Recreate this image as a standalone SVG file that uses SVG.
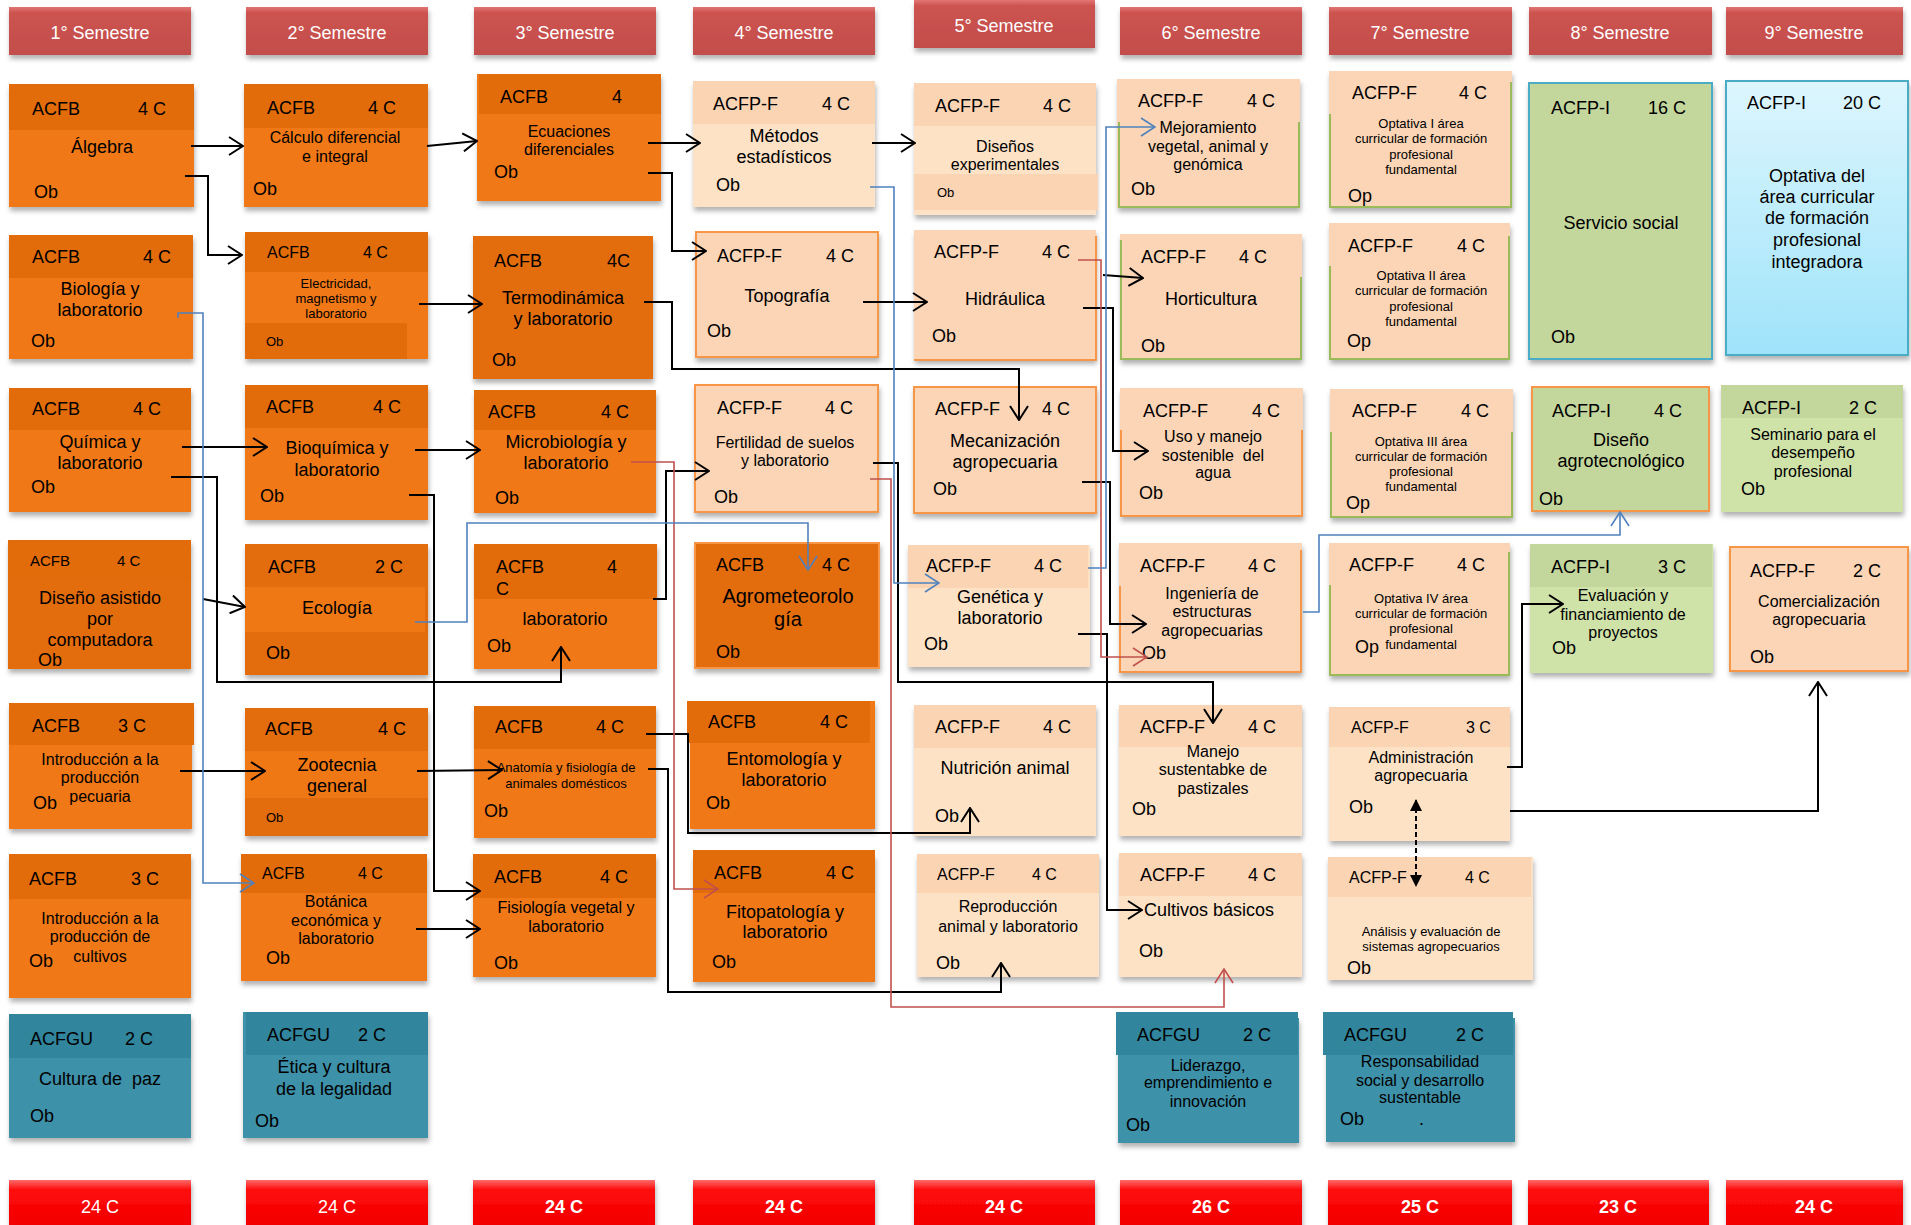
<svg xmlns="http://www.w3.org/2000/svg" width="1911" height="1225" viewBox="0 0 1911 1225">
<defs>
<style>
text{font-family:"Liberation Sans",Arial,sans-serif;fill:#000}
.s20{font-size:20px}.s18{font-size:18px}.s16{font-size:16px}.s15{font-size:15px}.s13{font-size:13px}
.m{text-anchor:middle}
.w{fill:#fff}
.b{font-weight:bold}
.sd{filter:url(#sh)}
.ob{fill:#F07814}.oh{fill:#E36C0A}
.pb{fill:#FBD5B5}.pl{fill:#FDE2C6}.ph{fill:#FBD4B4}
.gb{fill:#C3D69B}.gl{fill:#CFE2A8}
.tb{fill:#3D91A9}.th{fill:#31859C}
.bo{stroke:#F79646;stroke-width:2}
.bg{stroke:#9BBB59;stroke-width:2}
.bb{stroke:#4BACC6;stroke-width:2}
.sem{fill:url(#gsem)}.tot{fill:url(#gtot)}
.k{fill:none;stroke:#000;stroke-width:2;marker-end:url(#ak)}
.r{fill:none;stroke:#C0504D;stroke-width:1.6;marker-end:url(#ar)}
.u{fill:none;stroke:#4F81BD;stroke-width:1.6;marker-end:url(#au)}
.d{fill:none;stroke:#000;stroke-width:2;stroke-dasharray:5 3;marker-end:url(#af);marker-start:url(#afs)}
</style>
<filter id="sh" x="-5%" y="-5%" width="115%" height="120%">
<feDropShadow dx="1" dy="4" stdDeviation="2.5" flood-color="#000" flood-opacity="0.3"/>
</filter>
<linearGradient id="gsem" x1="0" y1="0" x2="0" y2="1">
<stop offset="0" stop-color="#E27673"/><stop offset="0.12" stop-color="#CD5350"/><stop offset="1" stop-color="#C24E4B"/>
</linearGradient>
<linearGradient id="gtot" x1="0" y1="0" x2="0" y2="1">
<stop offset="0" stop-color="#FF6A6A"/><stop offset="0.2" stop-color="#FF0A0A"/><stop offset="1" stop-color="#F00000"/>
</linearGradient>
<linearGradient id="gblue" x1="0" y1="0" x2="0" y2="1">
<stop offset="0" stop-color="#DDF6FE"/><stop offset="1" stop-color="#9FE3FA"/>
</linearGradient>
<marker id="ak" viewBox="0 0 16 20" refX="15" refY="10" markerWidth="16" markerHeight="20" markerUnits="userSpaceOnUse" orient="auto">
<path d="M1,1 L15,10 L1,19" fill="none" stroke="#000" stroke-width="2"/>
</marker>
<marker id="ar" viewBox="0 0 16 20" refX="15" refY="10" markerWidth="16" markerHeight="20" markerUnits="userSpaceOnUse" orient="auto">
<path d="M1,1 L15,10 L1,19" fill="none" stroke="#C0504D" stroke-width="1.6"/>
</marker>
<marker id="au" viewBox="0 0 16 20" refX="15" refY="10" markerWidth="16" markerHeight="20" markerUnits="userSpaceOnUse" orient="auto">
<path d="M1,1 L15,10 L1,19" fill="none" stroke="#4F81BD" stroke-width="1.6"/>
</marker>
<marker id="af" viewBox="0 0 12 12" refX="11" refY="6" markerWidth="12" markerHeight="12" markerUnits="userSpaceOnUse" orient="auto">
<path d="M0,0 L12,6 L0,12 Z" fill="#000"/>
</marker>
<marker id="afs" viewBox="0 0 12 12" refX="1" refY="6" markerWidth="12" markerHeight="12" markerUnits="userSpaceOnUse" orient="auto">
<path d="M12,0 L0,6 L12,12 Z" fill="#000"/>
</marker>
</defs>
<rect width="1911" height="1225" fill="#fff"/>

<g id="semestres">
<g id="sem1"><rect class="sem sd" x="9" y="7" width="182" height="48"/><text class="s18 m w" x="100" y="39">1° Semestre</text></g>
<g id="sem2"><rect class="sem sd" x="246" y="7" width="182" height="48"/><text class="s18 m w" x="337" y="39">2° Semestre</text></g>
<g id="sem3"><rect class="sem sd" x="474" y="7" width="182" height="48"/><text class="s18 m w" x="565" y="39">3° Semestre</text></g>
<g id="sem4"><rect class="sem sd" x="693" y="7" width="182" height="48"/><text class="s18 m w" x="784" y="39">4° Semestre</text></g>
<g id="sem5"><rect class="sem sd" x="914" y="0" width="181" height="48"/><text class="s18 m w" x="1004" y="32">5° Semestre</text></g>
<g id="sem6"><rect class="sem sd" x="1120" y="7" width="182" height="48"/><text class="s18 m w" x="1211" y="39">6° Semestre</text></g>
<g id="sem7"><rect class="sem sd" x="1329" y="7" width="183" height="48"/><text class="s18 m w" x="1420" y="39">7° Semestre</text></g>
<g id="sem8"><rect class="sem sd" x="1529" y="7" width="183" height="48"/><text class="s18 m w" x="1620" y="39">8° Semestre</text></g>
<g id="sem9"><rect class="sem sd" x="1726" y="7" width="177" height="48"/><text class="s18 m w" x="1814" y="39">9° Semestre</text></g>
</g>

<g id="totales">
<g id="tot1"><rect class="tot sd" x="9" y="1180" width="182" height="50"/><text class="s18 m w" x="100" y="1213">24 C</text></g>
<g id="tot2"><rect class="tot sd" x="246" y="1180" width="182" height="50"/><text class="s18 m w" x="337" y="1213">24 C</text></g>
<g id="tot3"><rect class="tot sd" x="473" y="1180" width="182" height="50"/><text class="s18 m w b" x="564" y="1213">24 C</text></g>
<g id="tot4"><rect class="tot sd" x="693" y="1180" width="182" height="50"/><text class="s18 m w b" x="784" y="1213">24 C</text></g>
<g id="tot5"><rect class="tot sd" x="914" y="1180" width="181" height="50"/><text class="s18 m w b" x="1004" y="1213">24 C</text></g>
<g id="tot6"><rect class="tot sd" x="1120" y="1180" width="182" height="50"/><text class="s18 m w b" x="1211" y="1213">26 C</text></g>
<g id="tot7"><rect class="tot sd" x="1328" y="1180" width="184" height="50"/><text class="s18 m w b" x="1420" y="1213">25 C</text></g>
<g id="tot8"><rect class="tot sd" x="1528" y="1180" width="181" height="50"/><text class="s18 m w b" x="1618" y="1213">23 C</text></g>
<g id="tot9"><rect class="tot sd" x="1726" y="1180" width="177" height="50"/><text class="s18 m w b" x="1814" y="1213">24 C</text></g>
</g>

<!-- Column 1 -->
<g id="algebra"><rect class="ob sd" x="9" y="84" width="185" height="123"/><rect class="oh" x="9" y="84" width="185" height="46"/>
<text class="s18" x="32" y="115">ACFB</text><text class="s18" x="138" y="115">4 C</text>
<text class="s18 m" x="102" y="153">Álgebra</text><text class="s18" x="34" y="198">Ob</text></g>

<g id="biologia"><rect class="ob sd" x="9" y="235" width="184" height="124"/><rect class="oh" x="9" y="235" width="184" height="43"/>
<text class="s18" x="32" y="263">ACFB</text><text class="s18" x="143" y="263">4 C</text>
<text class="s18 m" x="100" y="295">Biología y</text><text class="s18 m" x="100" y="316">laboratorio</text><text class="s18" x="31" y="347">Ob</text></g>

<g id="quimica"><rect class="ob sd" x="9" y="388" width="182" height="124"/><rect class="oh" x="9" y="388" width="182" height="42"/>
<text class="s18" x="32" y="415">ACFB</text><text class="s18" x="133" y="415">4 C</text>
<text class="s18 m" x="100" y="448">Química y</text><text class="s18 m" x="100" y="469">laboratorio</text><text class="s18" x="31" y="493">Ob</text></g>

<g id="disenoasistido"><rect class="oh sd" x="8" y="540" width="183" height="129"/><rect class="oh" x="8" y="540" width="183" height="40"/>
<text class="s15" x="30" y="566">ACFB</text><text class="s15" x="117" y="566">4 C</text>
<text class="s18 m" x="100" y="604">Diseño asistido</text><text class="s18 m" x="100" y="625">por</text><text class="s18 m" x="100" y="646">computadora</text><text class="s18" x="38" y="666">Ob</text></g>

<g id="intropecuaria"><rect class="ob sd" x="9" y="703" width="183" height="126"/><rect class="oh" x="9" y="703" width="185" height="42"/>
<text class="s18" x="32" y="732">ACFB</text><text class="s18" x="118" y="732">3 C</text>
<text class="s16 m" x="100" y="765">Introducción a la</text><text class="s16 m" x="100" y="783">producción</text><text class="s16 m" x="100" y="802">pecuaria</text><text class="s18" x="33" y="809">Ob</text></g>

<g id="introcultivos"><rect class="ob sd" x="9" y="854" width="182" height="144"/><rect class="oh" x="9" y="854" width="182" height="45"/>
<text class="s18" x="29" y="885">ACFB</text><text class="s18" x="131" y="885">3 C</text>
<text class="s16 m" x="100" y="924">Introducción a la</text><text class="s16 m" x="100" y="942">producción de</text><text class="s16 m" x="100" y="962">cultivos</text><text class="s18" x="29" y="967">Ob</text></g>

<g id="culturapaz"><rect class="tb sd" x="9" y="1014" width="182" height="124"/><rect class="th" x="9" y="1014" width="182" height="44"/>
<text class="s18" x="30" y="1045">ACFGU</text><text class="s18" x="125" y="1045">2 C</text>
<text class="s18 m" x="100" y="1085" xml:space="preserve">Cultura de  paz</text><text class="s18" x="30" y="1122">Ob</text></g>

<!-- Column 2 -->
<g id="calculo"><rect class="ob sd" x="244" y="84" width="184" height="123"/><rect class="oh" x="244" y="84" width="184" height="44"/>
<text class="s18" x="267" y="114">ACFB</text><text class="s18" x="368" y="114">4 C</text>
<text class="s16 m" x="335" y="143">Cálculo diferencial</text><text class="s16 m" x="335" y="162">e integral</text><text class="s18" x="253" y="195">Ob</text></g>

<g id="electricidad"><rect class="ob sd" x="245" y="232" width="183" height="127"/><rect class="oh" x="245" y="232" width="183" height="40"/><rect class="oh" x="245" y="323" width="162" height="36"/>
<text class="s16" x="267" y="258">ACFB</text><text class="s16" x="363" y="258">4 C</text>
<text class="s13 m" x="336" y="288">Electricidad,</text><text class="s13 m" x="336" y="303">magnetismo y</text><text class="s13 m" x="336" y="318">laboratorio</text><text class="s13" x="266" y="346">Ob</text></g>

<g id="bioquimica"><rect class="ob sd" x="245" y="385" width="183" height="135"/><rect class="oh" x="245" y="385" width="183" height="43"/>
<text class="s18" x="266" y="413">ACFB</text><text class="s18" x="373" y="413">4 C</text>
<text class="s18 m" x="337" y="454">Bioquímica y</text><text class="s18 m" x="337" y="476">laboratorio</text><text class="s18" x="260" y="502">Ob</text></g>

<g id="ecologia"><rect class="oh sd" x="245" y="544" width="183" height="131"/><rect class="ob" x="245" y="587" width="180" height="45"/>
<text class="s18" x="268" y="573">ACFB</text><text class="s18" x="375" y="573">2 C</text>
<text class="s18 m" x="337" y="614">Ecología</text><text class="s18" x="266" y="659">Ob</text></g>

<g id="zootecnia"><rect class="oh sd" x="245" y="708" width="183" height="128"/><rect class="ob" x="245" y="751" width="183" height="47"/>
<text class="s18" x="265" y="735">ACFB</text><text class="s18" x="378" y="735">4 C</text>
<text class="s18 m" x="337" y="771">Zootecnia</text><text class="s18 m" x="337" y="792">general</text><text class="s13" x="266" y="822">Ob</text></g>

<g id="botanica"><rect class="ob sd" x="241" y="854" width="186" height="127"/><rect class="oh" x="241" y="854" width="186" height="39"/>
<text class="s16" x="262" y="879">ACFB</text><text class="s16" x="358" y="879">4 C</text>
<text class="s16 m" x="336" y="907">Botánica</text><text class="s16 m" x="336" y="926">económica y</text><text class="s16 m" x="336" y="944">laboratorio</text><text class="s18" x="266" y="964">Ob</text></g>

<g id="etica"><rect class="tb sd" x="243" y="1012" width="185" height="126"/><rect class="th" x="246" y="1012" width="182" height="43"/>
<text class="s18" x="267" y="1041">ACFGU</text><text class="s18" x="358" y="1041">2 C</text>
<text class="s18 m" x="334" y="1073">Ética y cultura</text><text class="s18 m" x="334" y="1095">de la legalidad</text><text class="s18" x="255" y="1127">Ob</text></g>

<!-- Column 3 -->
<g id="ecuaciones"><rect class="ob sd" x="477" y="74" width="184" height="127"/><rect class="oh" x="479" y="74" width="182" height="40"/>
<text class="s18" x="500" y="103">ACFB</text><text class="s18" x="612" y="103">4</text>
<text class="s16 m" x="569" y="137">Ecuaciones</text><text class="s16 m" x="569" y="155">diferenciales</text><text class="s18" x="494" y="178">Ob</text></g>

<g id="termodinamica"><rect class="oh sd" x="473" y="236" width="180" height="143"/>
<text class="s18" x="494" y="267">ACFB</text><text class="s18" x="607" y="267">4C</text>
<text class="s18 m" x="563" y="304">Termodinámica</text><text class="s18 m" x="563" y="325">y laboratorio</text><text class="s18" x="492" y="366">Ob</text></g>

<g id="microbiologia"><rect class="ob sd" x="474" y="390" width="182" height="123"/><rect class="oh" x="474" y="390" width="182" height="40"/>
<text class="s18" x="488" y="418">ACFB</text><text class="s18" x="601" y="418">4 C</text>
<text class="s18 m" x="566" y="448">Microbiología y</text><text class="s18 m" x="566" y="469">laboratorio</text><text class="s18" x="495" y="504">Ob</text></g>

<g id="laboratorio3"><rect class="ob sd" x="474" y="544" width="183" height="125"/><rect class="oh" x="474" y="544" width="183" height="55"/>
<text class="s18" x="496" y="573">ACFB</text><text class="s18" x="607" y="573">4</text><text class="s18" x="496" y="595">C</text>
<text class="s18 m" x="565" y="625">laboratorio</text><text class="s18" x="487" y="652">Ob</text></g>

<g id="anatomia"><rect class="ob sd" x="474" y="706" width="182" height="132"/><rect class="oh" x="474" y="706" width="182" height="43"/>
<text class="s18" x="495" y="733">ACFB</text><text class="s18" x="596" y="733">4 C</text>
<text class="s13 m" x="566" y="772">Anatomía y fisiología de</text><text class="s13 m" x="566" y="788">animales domésticos</text><text class="s18" x="484" y="817">Ob</text></g>

<g id="fisiologia"><rect class="ob sd" x="473" y="854" width="183" height="123"/><rect class="oh" x="473" y="854" width="183" height="44"/>
<text class="s18" x="494" y="883">ACFB</text><text class="s18" x="600" y="883">4 C</text>
<text class="s16 m" x="566" y="913">Fisiología vegetal y</text><text class="s16 m" x="566" y="932">laboratorio</text><text class="s18" x="494" y="969">Ob</text></g>

<!-- Column 4 -->
<g id="metodos"><rect class="pl sd" x="693" y="81" width="182" height="126"/><rect class="ph" x="693" y="81" width="182" height="43"/>
<text class="s18" x="713" y="110">ACFP-F</text><text class="s18" x="822" y="110">4 C</text>
<text class="s18 m" x="784" y="142">Métodos</text><text class="s18 m" x="784" y="163">estadísticos</text><text class="s18" x="716" y="191">Ob</text></g>

<g id="topografia"><rect class="pb bo sd" x="696" y="232" width="182" height="125"/>
<text class="s18" x="717" y="262">ACFP-F</text><text class="s18" x="826" y="262">4 C</text>
<text class="s18 m" x="787" y="302">Topografía</text><text class="s18" x="707" y="337">Ob</text></g>

<g id="fertilidad"><rect class="pb bo sd" x="695" y="385" width="183" height="127"/>
<text class="s18" x="717" y="414">ACFP-F</text><text class="s18" x="825" y="414">4 C</text>
<text class="s16 m" x="785" y="448">Fertilidad de suelos</text><text class="s16 m" x="785" y="466">y laboratorio</text><text class="s18" x="714" y="503">Ob</text></g>

<g id="agrometeorologia"><rect class="oh bo sd" x="695" y="543" width="184" height="125"/>
<text class="s18" x="716" y="571">ACFB</text><text class="s18" x="822" y="571">4 C</text>
<text class="s20 m" x="788" y="603">Agrometeorolo</text><text class="s20 m" x="788" y="626">gía</text><text class="s18" x="716" y="658">Ob</text></g>

<g id="entomologia"><rect class="ob sd" x="690" y="701" width="185" height="128"/><rect class="oh" x="687" y="701" width="183" height="42"/>
<text class="s18" x="708" y="728">ACFB</text><text class="s18" x="820" y="728">4 C</text>
<text class="s18 m" x="784" y="765">Entomología y</text><text class="s18 m" x="784" y="786">laboratorio</text><text class="s18" x="706" y="809">Ob</text></g>

<g id="fitopatologia"><rect class="ob sd" x="693" y="854" width="182" height="128"/><rect class="oh" x="693" y="850" width="182" height="43"/>
<text class="s18" x="714" y="879">ACFB</text><text class="s18" x="826" y="879">4 C</text>
<text class="s18 m" x="785" y="918">Fitopatología y</text><text class="s18 m" x="785" y="938">laboratorio</text><text class="s18" x="712" y="968">Ob</text></g>

<!-- Column 5 -->
<g id="disenos"><rect class="pl sd" x="914" y="83" width="182" height="132"/><rect class="ph" x="914" y="83" width="182" height="43"/><rect class="ph" x="914" y="174" width="184" height="36"/>
<text class="s18" x="935" y="112">ACFP-F</text><text class="s18" x="1043" y="112">4 C</text>
<text class="s16 m" x="1005" y="152">Diseños</text><text class="s16 m" x="1005" y="170">experimentales</text><text class="s13" x="937" y="197">Ob</text></g>

<g id="hidraulica"><rect class="pb sd" x="914" y="230" width="182" height="130"/><path d="M1096,236 V360 H914" fill="none" stroke="#F79646" stroke-width="2"/>
<text class="s18" x="934" y="258">ACFP-F</text><text class="s18" x="1042" y="258">4 C</text>
<text class="s18 m" x="1005" y="305">Hidráulica</text><text class="s18" x="932" y="342">Ob</text></g>

<g id="mecanizacion"><rect class="pb bo sd" x="914" y="387" width="182" height="126"/>
<text class="s18" x="935" y="415">ACFP-F</text><text class="s18" x="1042" y="415">4 C</text>
<text class="s18 m" x="1005" y="447">Mecanización</text><text class="s18 m" x="1005" y="468">agropecuaria</text><text class="s18" x="933" y="495">Ob</text></g>

<g id="genetica"><rect class="pl sd" x="908" y="545" width="182" height="122"/><rect class="ph" x="908" y="545" width="180" height="43"/>
<text class="s18" x="926" y="572">ACFP-F</text><text class="s18" x="1034" y="572">4 C</text>
<text class="s18 m" x="1000" y="603">Genética y</text><text class="s18 m" x="1000" y="624">laboratorio</text><text class="s18" x="924" y="650">Ob</text></g>

<g id="nutricion"><rect class="pl sd" x="914" y="705" width="182" height="131"/><rect class="ph" x="914" y="705" width="182" height="43"/>
<text class="s18" x="935" y="733">ACFP-F</text><text class="s18" x="1043" y="733">4 C</text>
<text class="s18 m" x="1005" y="774">Nutrición animal</text><text class="s18" x="935" y="822">Ob</text></g>

<g id="reproduccion"><rect class="pl sd" x="917" y="854" width="182" height="123"/><rect class="ph" x="917" y="854" width="182" height="39"/>
<text class="s16" x="937" y="880">ACFP-F</text><text class="s16" x="1032" y="880">4 C</text>
<text class="s16 m" x="1008" y="912">Reproducción</text><text class="s16 m" x="1008" y="932">animal y laboratorio</text><text class="s18" x="936" y="969">Ob</text></g>

<!-- Column 6 -->
<g id="mejoramiento"><rect class="pb sd" x="1117" y="79" width="183" height="129"/><path d="M1119,122 V207 H1299 V122" fill="none" stroke="#9BBB59" stroke-width="2"/>
<text class="s18" x="1138" y="107">ACFP-F</text><text class="s18" x="1247" y="107">4 C</text>
<text class="s16 m" x="1208" y="133">Mejoramiento</text><text class="s16 m" x="1208" y="152">vegetal, animal y</text><text class="s16 m" x="1208" y="170">genómica</text><text class="s18" x="1131" y="195">Ob</text></g>

<g id="horticultura"><rect class="pb sd" x="1120" y="234" width="182" height="126"/><path d="M1121,240 V359 H1301 V277" fill="none" stroke="#9BBB59" stroke-width="2"/>
<text class="s18" x="1141" y="263">ACFP-F</text><text class="s18" x="1239" y="263">4 C</text>
<text class="s18 m" x="1211" y="305">Horticultura</text><text class="s18" x="1141" y="352">Ob</text></g>

<g id="usomanejo"><rect class="pb sd" x="1120" y="388" width="183" height="129"/><path d="M1121,430 V516 H1302 V430" fill="none" stroke="#F79646" stroke-width="2"/>
<text class="s18" x="1143" y="417">ACFP-F</text><text class="s18" x="1252" y="417">4 C</text>
<text class="s16 m" x="1213" y="442">Uso y manejo</text><text class="s16 m" x="1213" y="461" xml:space="preserve">sostenible  del</text><text class="s16 m" x="1213" y="478">agua</text><text class="s18" x="1139" y="499">Ob</text></g>

<g id="ingenieria"><rect class="pb sd" x="1119" y="543" width="183" height="130"/><path d="M1120,586 V672 H1301 V550" fill="none" stroke="#F79646" stroke-width="2"/>
<text class="s18" x="1140" y="572">ACFP-F</text><text class="s18" x="1248" y="572">4 C</text>
<text class="s16 m" x="1212" y="599">Ingeniería de</text><text class="s16 m" x="1212" y="617">estructuras</text><text class="s16 m" x="1212" y="636">agropecuarias</text><text class="s18" x="1142" y="659">Ob</text></g>

<g id="manejopastizales"><rect class="pl sd" x="1119" y="705" width="183" height="131"/><rect class="ph" x="1119" y="705" width="183" height="42"/>
<text class="s18" x="1140" y="733">ACFP-F</text><text class="s18" x="1248" y="733">4 C</text>
<text class="s16 m" x="1213" y="757">Manejo</text><text class="s16 m" x="1213" y="775">sustentabke de</text><text class="s16 m" x="1213" y="794">pastizales</text><text class="s18" x="1132" y="815">Ob</text></g>

<g id="cultivosbasicos"><rect class="pl sd" x="1119" y="853" width="183" height="124"/><rect class="ph" x="1119" y="853" width="183" height="43"/>
<text class="s18" x="1140" y="881">ACFP-F</text><text class="s18" x="1248" y="881">4 C</text>
<text class="s18" x="1144" y="916">Cultivos básicos</text><text class="s18" x="1139" y="957">Ob</text></g>

<g id="liderazgo"><rect class="tb sd" x="1118" y="1018" width="181" height="125"/><rect class="th" x="1116" y="1012" width="182" height="43"/>
<text class="s18" x="1137" y="1041">ACFGU</text><text class="s18" x="1243" y="1041">2 C</text>
<text class="s16 m" x="1208" y="1071">Liderazgo,</text><text class="s16 m" x="1208" y="1088">emprendimiento e</text><text class="s16 m" x="1208" y="1107">innovación</text><text class="s18" x="1126" y="1131">Ob</text></g>

<!-- Column 7 -->
<g id="optativa1"><rect class="pb sd" x="1329" y="71" width="183" height="137"/><path d="M1330,114 V207 H1511 V82" fill="none" stroke="#9BBB59" stroke-width="2"/>
<text class="s18" x="1352" y="99">ACFP-F</text><text class="s18" x="1459" y="99">4 C</text>
<text class="s13 m" x="1421" y="128">Optativa I área</text><text class="s13 m" x="1421" y="143">curricular de formación</text><text class="s13 m" x="1421" y="159">profesional</text><text class="s13 m" x="1421" y="174">fundamental</text><text class="s18" x="1348" y="202">Op</text></g>

<g id="optativa2"><rect class="pb sd" x="1329" y="223" width="181" height="137"/><path d="M1330,266 V359 H1509 V236" fill="none" stroke="#9BBB59" stroke-width="2"/>
<text class="s18" x="1348" y="252">ACFP-F</text><text class="s18" x="1457" y="252">4 C</text>
<text class="s13 m" x="1421" y="280">Optativa II área</text><text class="s13 m" x="1421" y="295">curricular de formación</text><text class="s13 m" x="1421" y="311">profesional</text><text class="s13 m" x="1421" y="326">fundamental</text><text class="s18" x="1347" y="347">Op</text></g>

<g id="optativa3"><rect class="pb sd" x="1330" y="389" width="183" height="129"/><path d="M1331,432 V517 H1512 V432" fill="none" stroke="#9BBB59" stroke-width="2"/>
<text class="s18" x="1352" y="417">ACFP-F</text><text class="s18" x="1461" y="417">4 C</text>
<text class="s13 m" x="1421" y="446">Optativa III área</text><text class="s13 m" x="1421" y="461">curricular de formación</text><text class="s13 m" x="1421" y="476">profesional</text><text class="s13 m" x="1421" y="491">fundamental</text><text class="s18" x="1346" y="509">Op</text></g>

<g id="optativa4"><rect class="pb sd" x="1329" y="543" width="181" height="133"/><path d="M1330,585 V675 H1509 V552" fill="none" stroke="#9BBB59" stroke-width="2"/>
<text class="s18" x="1349" y="571">ACFP-F</text><text class="s18" x="1457" y="571">4 C</text>
<text class="s13 m" x="1421" y="603">Optativa IV área</text><text class="s13 m" x="1421" y="618">curricular de formación</text><text class="s13 m" x="1421" y="633">profesional</text><text class="s13 m" x="1421" y="649">fundamental</text><text class="s18" x="1355" y="653">Op</text></g>

<g id="administracion"><rect class="pl sd" x="1329" y="707" width="181" height="134"/><rect class="ph" x="1329" y="707" width="181" height="40"/>
<text class="s16" x="1351" y="733">ACFP-F</text><text class="s16" x="1466" y="733">3 C</text>
<text class="s16 m" x="1421" y="763">Administración</text><text class="s16 m" x="1421" y="781">agropecuaria</text><text class="s18" x="1349" y="813">Ob</text></g>

<g id="analisis"><rect class="pl sd" x="1328" y="857" width="205" height="123"/><rect class="ph" x="1328" y="857" width="203" height="40"/>
<text class="s16" x="1349" y="883">ACFP-F</text><text class="s16" x="1465" y="883">4 C</text>
<text class="s13 m" x="1431" y="936">Análisis y evaluación de</text><text class="s13 m" x="1431" y="951">sistemas agropecuarios</text><text class="s18" x="1347" y="974">Ob</text></g>

<g id="responsabilidad"><rect class="tb sd" x="1326" y="1018" width="189" height="124"/><rect class="th" x="1323" y="1012" width="190" height="43"/>
<text class="s18" x="1344" y="1041">ACFGU</text><text class="s18" x="1456" y="1041">2 C</text>
<text class="s16 m" x="1420" y="1067">Responsabilidad</text><text class="s16 m" x="1420" y="1086">social y desarrollo</text><text class="s16 m" x="1420" y="1103">sustentable</text><text class="s18" x="1340" y="1125">Ob</text><text class="s18" x="1419" y="1125">.</text></g>

<!-- Column 8 -->
<g id="serviciosocial"><rect class="gb bb sd" x="1529" y="83" width="183" height="276"/>
<text class="s18" x="1551" y="114">ACFP-I</text><text class="s18" x="1648" y="114">16 C</text>
<text class="s18 m" x="1621" y="229">Servicio social</text><text class="s18" x="1551" y="343">Ob</text></g>

<g id="disenoagro"><rect class="gb bo sd" x="1532" y="387" width="177" height="124"/>
<text class="s18" x="1552" y="417">ACFP-I</text><text class="s18" x="1654" y="417">4 C</text>
<text class="s18 m" x="1621" y="446">Diseño</text><text class="s18 m" x="1621" y="467">agrotecnológico</text><text class="s18" x="1539" y="505">Ob</text></g>

<g id="evaluacion"><rect class="gl sd" x="1530" y="544" width="183" height="129"/><rect class="gb" x="1530" y="544" width="182" height="43"/>
<text class="s18" x="1551" y="573">ACFP-I</text><text class="s18" x="1658" y="573">3 C</text>
<text class="s16 m" x="1623" y="601">Evaluación y</text><text class="s16 m" x="1623" y="620">financiamiento de</text><text class="s16 m" x="1623" y="638">proyectos</text><text class="s18" x="1552" y="654">Ob</text></g>

<!-- Column 9 -->
<g id="optativaintegradora"><rect class="bb sd" fill="url(#gblue)" x="1726" y="81" width="182" height="274"/>
<text class="s18" x="1747" y="109">ACFP-I</text><text class="s18" x="1843" y="109">20 C</text>
<text class="s18 m" x="1817" y="182">Optativa del</text><text class="s18 m" x="1817" y="203">área curricular</text><text class="s18 m" x="1817" y="224">de formación</text><text class="s18 m" x="1817" y="246">profesional</text><text class="s18 m" x="1817" y="268">integradora</text></g>

<g id="seminario"><rect class="gl sd" x="1721" y="385" width="182" height="127"/><rect class="gb" x="1721" y="385" width="182" height="33"/>
<text class="s18" x="1742" y="414">ACFP-I</text><text class="s18" x="1849" y="414">2 C</text>
<text class="s16 m" x="1813" y="440">Seminario para el</text><text class="s16 m" x="1813" y="458">desempeño</text><text class="s16 m" x="1813" y="477">profesional</text><text class="s18" x="1741" y="495">Ob</text></g>

<g id="comercializacion"><rect class="pb bo sd" x="1730" y="547" width="178" height="124"/>
<text class="s18" x="1750" y="577">ACFP-F</text><text class="s18" x="1853" y="577">2 C</text>
<text class="s16 m" x="1819" y="607">Comercialización</text><text class="s16 m" x="1819" y="625">agropecuaria</text><text class="s18" x="1750" y="663">Ob</text></g>

<g id="connectors">
<path class="k" d="M191,146 L243,146"/>
<path class="k" d="M185,176 L208,176 L208,255 L242,255"/>
<path class="k" d="M427,146 L477,141"/>
<path class="k" d="M419,304 L482,304"/>
<path class="k" d="M648,143 L700,143"/>
<path class="k" d="M648,173 L672,173 L672,251 L706,251"/>
<path class="k" d="M872,143 L915,143"/>
<path class="k" d="M863,302 L927,302"/>
<path class="k" d="M644,302 L672,302 L672,369 L1019,369 L1019,420"/>
<path class="k" d="M1103,275 L1143,278"/>
<path class="k" d="M1083,308 L1113,308 L1113,451 L1148,451"/>
<path class="k" d="M1082,482 L1110,482 L1110,624 L1146,624"/>
<path class="k" d="M1078,634 L1107,634 L1107,910 L1142,910"/>
<path class="k" d="M182,447 L267,447"/>
<path class="k" d="M171,477 L217,477 L217,682 L561,682 L561,647"/>
<path class="k" d="M873,463 L898,463 L898,682 L1213,682 L1213,723"/>
<path class="k" d="M653,599 L666,599 L666,471 L709,471"/>
<path class="k" d="M415,450 L480,450"/>
<path class="k" d="M409,495 L434,495 L434,891 L480,891"/>
<path class="k" d="M203,599 L245,607"/>
<path class="k" d="M180,771 L265,771"/>
<path class="k" d="M417,771 L502,770"/>
<path class="k" d="M416,929 L480,929"/>
<path class="k" d="M646,734 L688,734 L688,833 L970,833 L970,808"/>
<path class="k" d="M648,769 L668,769 L668,992 L1001,992 L1001,963"/>
<path class="k" d="M1507,767 L1522,767 L1522,604 L1563,604"/>
<path class="k" d="M1510,811 L1818,811 L1818,682"/>
<path class="d" d="M1416,800 L1416,886"/>
<path class="r" d="M631,462 L674,462 L674,889 L718,889"/>
<path class="r" d="M870,479 L891,479 L891,1007 L1224,1007 L1224,969"/>
<path class="r" d="M1078,260 L1101,260 L1101,657 L1147,657"/>
<path class="u" d="M178,318 L178,313 L203,313 L203,883 L254,883"/>
<path class="u" d="M415,622 L467,622 L467,523 L808,523 L808,570"/>
<path class="u" d="M870,187 L894,187 L894,583 L939,583"/>
<path class="u" d="M1088,568 L1106,568 L1106,127 L1155,127"/>
<path class="u" d="M1303,612 L1319,612 L1319,535 L1620,535 L1620,512"/>
</g>
</svg>
